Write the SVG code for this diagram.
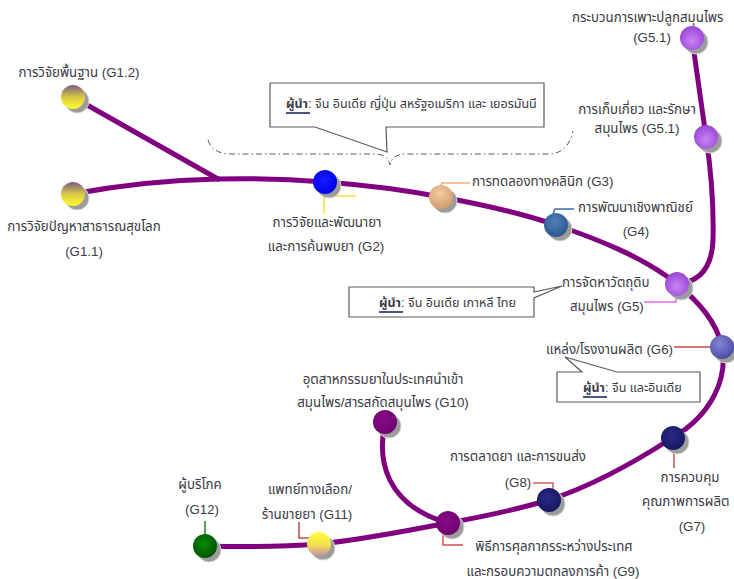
<svg xmlns="http://www.w3.org/2000/svg" width="734" height="579" viewBox="0 0 734 579">
  <style>
    .lbl { font-family: "Liberation Sans", "Noto Sans Thai", "Noto Sans", sans-serif; font-size: 13.3px; fill: #3a3a44; }
    .note { font-size: 12.5px; }
    .mid { text-anchor: middle; }
    .lead { font-weight: bold; }
    .route { fill: none; stroke: #800080; stroke-width: 5; stroke-linecap: round; stroke-linejoin: round; }
    .tick { fill: none; stroke-width: 1.5; }
    .shadow { fill: #9c9c9c; stroke: #d4d4d4; stroke-width: 1; }
    .ptr { fill: #ffffff; stroke: #5a5a5a; stroke-width: 1.2; stroke-linejoin: miter; }
    .brace { fill: none; stroke: #5a5a5a; stroke-width: 1; stroke-dasharray: 6 3 1.5 3; }
    .uline { stroke: #1f2a6a; stroke-width: 1.6; }
  </style>
  <defs>
    <linearGradient id="gYellow" x1="0" y1="0" x2="0" y2="1">
      <stop offset="0" stop-color="#7a5a86"/>
      <stop offset="0.5" stop-color="#d8c848"/>
      <stop offset="1" stop-color="#ffff2a"/>
    </linearGradient>
    <linearGradient id="gYellowRev" x1="0" y1="0" x2="0" y2="1">
      <stop offset="0" stop-color="#ffff3a"/>
      <stop offset="0.55" stop-color="#f2e050"/>
      <stop offset="1" stop-color="#c48aa8"/>
    </linearGradient>
    <radialGradient id="gBlue" cx="0.45" cy="0.4" r="0.65">
      <stop offset="0" stop-color="#1a1aff"/>
      <stop offset="1" stop-color="#0000e6"/>
    </radialGradient>
    <radialGradient id="gTan" cx="0.45" cy="0.35" r="0.7">
      <stop offset="0" stop-color="#f2cca4"/>
      <stop offset="1" stop-color="#d29a68"/>
    </radialGradient>
    <radialGradient id="gSteel" cx="0.45" cy="0.35" r="0.7">
      <stop offset="0" stop-color="#4f7fb8"/>
      <stop offset="1" stop-color="#2a5388"/>
    </radialGradient>
    <radialGradient id="gViolet" cx="0.5" cy="0.6" r="0.65">
      <stop offset="0" stop-color="#c884f4"/>
      <stop offset="1" stop-color="#9440d0"/>
    </radialGradient>
    <radialGradient id="gSlate" cx="0.4" cy="0.35" r="0.7">
      <stop offset="0" stop-color="#8484d4"/>
      <stop offset="1" stop-color="#4a4aa4"/>
    </radialGradient>
    <radialGradient id="gNavy" cx="0.45" cy="0.4" r="0.7">
      <stop offset="0" stop-color="#2a2a86"/>
      <stop offset="1" stop-color="#14145a"/>
    </radialGradient>
    <radialGradient id="gPurple" cx="0.45" cy="0.4" r="0.7">
      <stop offset="0" stop-color="#8a0a8a"/>
      <stop offset="1" stop-color="#6a006a"/>
    </radialGradient>
    <radialGradient id="gGreen" cx="0.45" cy="0.4" r="0.7">
      <stop offset="0" stop-color="#0a8a0a"/>
      <stop offset="1" stop-color="#004a00"/>
    </radialGradient>
  </defs>

  <rect x="0" y="0" width="734" height="579" fill="#ffffff"/>

  <!-- leader callouts with bracket -->
  <g id="leaders-research">
    <path class="brace" d="M 208 140 Q 212 154 232 154 L 374 154 Q 388 154 390 165 Q 392 154 406 154 L 548 154 Q 568 154 573 131"/>
    <path class="ptr" d="M 270 83 L 544 83 L 544 127 L 386 127 L 387 152 L 315 127 L 270 127 Z"/>
    <text class="lbl note" x="286" y="108"><tspan class="lead">ผู้นำ</tspan>: จีน อินเดีย ญี่ปุ่น สหรัฐอเมริกา และ  เยอรมันนี</text>
    <line class="uline" x1="286" y1="113" x2="310" y2="113"/>
  </g>
  <g id="leaders-material">
    <path class="ptr" d="M 349 287 L 534 287 L 534 292 L 562 286 L 534 298 L 534 317 L 349 317 Z"/>
    <text class="lbl note" x="379" y="307"><tspan class="lead">ผู้นำ</tspan>: จีน อินเดีย เกาหลี ไทย</text>
    <line class="uline" x1="379" y1="312" x2="403" y2="312"/>
  </g>
  <g id="leaders-production">
    <path class="ptr" d="M 557 372 L 582 372 L 565 357 L 617 372 L 700 372 L 700 402 L 557 402 Z"/>
    <text class="lbl note" x="583" y="392"><tspan class="lead">ผู้นำ</tspan>: จีน และอินเดีย</text>
    <line class="uline" x1="583" y1="397" x2="607" y2="397"/>
  </g>

  <!-- label ticks and route lines -->
  <g id="connectors">
    <polyline class="tick" stroke="#f2e23a" points="356,196 324,196 324,213"/>
    <polyline class="tick" stroke="#f0b27a" points="440,188 442,183 470,183"/>
    <polyline class="tick" stroke="#3f6fa8" points="553,214 555,209 574,209"/>
    <polyline class="tick" stroke="#e070e8" points="644,302 676,302 676,290"/>
    <line class="tick" stroke="#c84848" stroke-width="2.5" x1="674" y1="347" x2="712" y2="347"/>
    <line class="tick" stroke="#c85050" x1="674" y1="448" x2="674" y2="468"/>
    <polyline class="tick" stroke="#d06060" points="533,483 553,483 553,492"/>
    <polyline class="tick" stroke="#c85050" points="443,530 443,545 463,545"/>
    <polyline class="tick" stroke="#b05050" points="299,522 299,538 313,538"/>
    <line class="tick" stroke="#208020" x1="205" y1="521" x2="205" y2="537"/>

    <path class="route" d="M 73 97 L 218 179"/>
    <path class="route" d="M 73 194 C 120 185, 170 180, 218 179"/>
    <path class="route" d="M 218 179 C 255 178, 290 179, 325 182 C 365 185, 405 190, 441 197 C 480 204, 520 213, 556 225 C 600 240, 645 258, 677 284 C 700 303, 716 322, 722 346 C 728 378, 712 415, 672 438 C 635 462, 595 485, 549 500 C 515 510, 482 517, 448 523 C 405 531, 362 540, 319 544 C 280 547, 245 547, 205 546"/>
    <path class="route" d="M 692 38 L 706 137 C 711 170, 714 200, 713 240 C 712 268, 700 282, 677 284"/>
    <path class="route" d="M 385 422 C 377 460, 385 505, 448 523"/>
  </g>

  <!-- stations -->
  <g id="g1-2">
    <circle class="shadow" cx="77" cy="101" r="12"/>
    <circle cx="73" cy="97" r="12" fill="url(#gYellow)"/>
    <text class="lbl mid" x="79" y="77">การวิจัยพื้นฐาน (G1.2)</text>
  </g>
  <g id="g1-1">
    <circle class="shadow" cx="77" cy="198" r="12"/>
    <circle cx="73" cy="194" r="12" fill="url(#gYellow)"/>
    <text class="lbl mid" x="84" y="231">การวิจัยปัญหาสาธารณสุขโลก</text>
    <text class="lbl mid" x="84" y="256">(G1.1)</text>
  </g>
  <g id="g2">
    <circle class="shadow" cx="329" cy="186" r="12"/>
    <circle cx="325" cy="182" r="12" fill="url(#gBlue)"/>
    <text class="lbl mid" x="327" y="227">การวิจัยและพัฒนายา</text>
    <text class="lbl mid" x="326" y="251">และการค้นพบยา (G2)</text>
  </g>
  <g id="g3">
    <circle class="shadow" cx="445" cy="201" r="12"/>
    <circle cx="441" cy="197" r="12" fill="url(#gTan)"/>
    <text class="lbl" x="472" y="186">การทดลองทางคลินิก (G3)</text>
  </g>
  <g id="g4">
    <circle class="shadow" cx="560" cy="229" r="12"/>
    <circle cx="556" cy="225" r="12" fill="url(#gSteel)"/>
    <text class="lbl" x="578" y="212">การพัฒนาเชิงพาณิชย์</text>
    <text class="lbl mid" x="636" y="236">(G4)</text>
  </g>
  <g id="g5">
    <circle class="shadow" cx="681" cy="288" r="12"/>
    <circle cx="677" cy="284" r="12" fill="url(#gViolet)"/>
    <text class="lbl" x="562" y="287">การจัดหาวัตถุดิบ</text>
    <text class="lbl" x="570" y="311">สมุนไพร (G5)</text>
  </g>
  <g id="g5-1-cultivation">
    <circle class="shadow" cx="696" cy="42" r="12"/>
    <circle cx="692" cy="38" r="12" fill="url(#gViolet)"/>
    <text class="lbl" x="572" y="22">กระบวนการเพาะปลูกสมุนไพร</text>
    <text class="lbl mid" x="652" y="42">(G5.1)</text>
  </g>
  <g id="g5-1-harvest">
    <circle class="shadow" cx="710" cy="141" r="12"/>
    <circle cx="706" cy="137" r="12" fill="url(#gViolet)"/>
    <text class="lbl mid" x="637" y="114">การเก็บเกี่ยว และรักษา</text>
    <text class="lbl mid" x="637" y="133">สมุนไพร (G5.1)</text>
  </g>
  <g id="g6">
    <circle class="shadow" cx="726" cy="351" r="12"/>
    <circle cx="722" cy="347" r="12" fill="url(#gSlate)"/>
    <text class="lbl" x="546" y="354">แหล่ง/โรงงานผลิต (G6)</text>
  </g>
  <g id="g7">
    <circle class="shadow" cx="677" cy="442" r="12"/>
    <circle cx="673" cy="438" r="12" fill="url(#gNavy)"/>
    <text class="lbl mid" x="690" y="482">การควบคุม</text>
    <text class="lbl" x="642" y="506">คุณภาพการผลิต</text>
    <text class="lbl mid" x="692" y="531">(G7)</text>
  </g>
  <g id="g8">
    <circle class="shadow" cx="553" cy="504" r="12"/>
    <circle cx="549" cy="500" r="12" fill="url(#gNavy)"/>
    <text class="lbl mid" x="518" y="461">การตลาดยา และการขนส่ง</text>
    <text class="lbl mid" x="518" y="487">(G8)</text>
  </g>
  <g id="g9">
    <circle class="shadow" cx="452" cy="527" r="12"/>
    <circle cx="448" cy="523" r="12" fill="url(#gPurple)"/>
    <text class="lbl mid" x="554" y="551">พิธีการศุลกากรระหว่างประเทศ</text>
    <text class="lbl mid" x="553" y="576">และกรอบความตกลงการค้า (G9)</text>
  </g>
  <g id="g10">
    <circle class="shadow" cx="389" cy="426" r="12"/>
    <circle cx="385" cy="422" r="12" fill="url(#gPurple)"/>
    <text class="lbl mid" x="383" y="384">อุตสาหกรรมยาในประเทศนำเข้า</text>
    <text class="lbl mid" x="383" y="407">สมุนไพร/สารสกัดสมุนไพร (G10)</text>
  </g>
  <g id="g11">
    <circle class="shadow" cx="323" cy="548" r="12"/>
    <circle cx="319" cy="544" r="12" fill="url(#gYellowRev)"/>
    <text class="lbl mid" x="310" y="494">แพทย์ทางเลือก/</text>
    <text class="lbl mid" x="307" y="519">ร้านขายยา (G11)</text>
  </g>
  <g id="g12">
    <circle class="shadow" cx="209" cy="550" r="12"/>
    <circle cx="205" cy="546" r="12" fill="url(#gGreen)"/>
    <text class="lbl mid" x="200" y="489">ผู้บริโภค</text>
    <text class="lbl mid" x="202" y="514">(G12)</text>
  </g>
</svg>
